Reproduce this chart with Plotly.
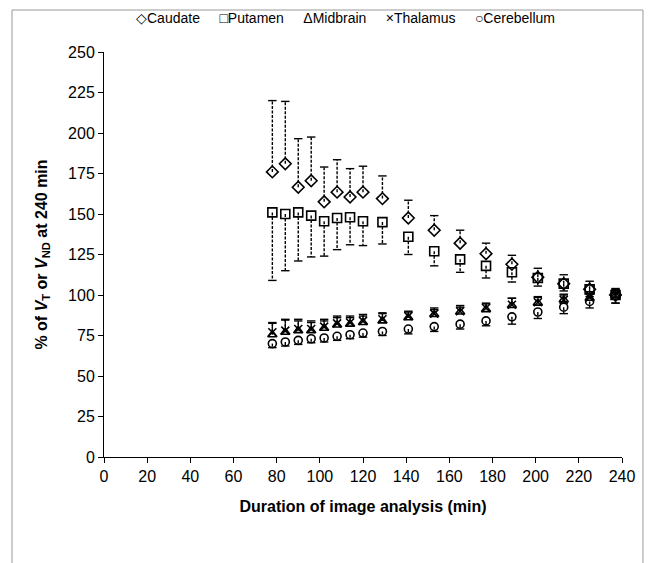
import plotly.graph_objects as go

# ---- data ----
duration = [78, 84, 90, 96, 102, 108, 114, 120, 129, 141, 153, 165, 177, 189, 201, 213, 225, 237]

caudate = [176, 181, 166.5, 170.5, 157.5, 163.5, 160.5, 163.5, 159.5, 147.5, 140, 132, 125.5, 119, 111, 107, 103.5, 100]
caudate_hi = [220, 219.5, 196.5, 197.5, 179, 183.5, 178, 179.5, 173.5, 158.5, 149, 140, 132, 124.5, 116.5, 112.5, 108.5, 104]

putamen = [151, 150, 151, 149, 145.5, 147.5, 148, 145.5, 145, 136, 127, 122, 118, 114, 110.5, 107, 103.5, 100]
putamen_lo = [109, 115, 121, 123.5, 124, 128, 131, 130.5, 131.5, 125, 118, 114, 110.5, 108, 105.5, 102.5, 99, 95]

midbrain = [75.5, 77, 78, 78, 79.5, 81.5, 82, 83, 84, 86, 88, 89.5, 91, 93.5, 95, 97, 98, 99.5]
midbrain_hi = [82.5, 84.5, 84, 83, 84, 86, 86, 87, 88.5, 89.5, 91, 92.5, 94.5, 98, 98.5, 100, 102, 103]

thalamus = [77, 78, 79, 79, 80.5, 82.5, 83, 84, 85, 87, 88.5, 90, 92, 94, 95.5, 97, 98.5, 100]
thalamus_hi = [83, 85, 85, 84, 85, 87, 87, 88, 89, 90, 92, 93.5, 95, 98, 99, 100.5, 102, 103.5]

cerebellum = [70, 71, 72, 73, 73.5, 74.5, 75.5, 76.5, 77.5, 79, 80.5, 82, 84, 86.5, 89.5, 92.5, 96, 99.5]
cerebellum_lo = [67.5, 68.5, 69.5, 70.5, 71, 72, 73, 74, 75, 76, 77.5, 79, 81, 82, 85.5, 88.5, 92, 95]

legend_labels = ["◇Caudate", "□Putamen", "ΔMidbrain", "×Thalamus", "○Cerebellum"]

series = [
    ("Caudate", caudate, caudate_hi, "diamond-open", 9),
    ("Putamen", putamen, putamen_lo, "square-open", 9),
    ("Midbrain", midbrain, midbrain_hi, "triangle-up-open", 8),
    ("Thalamus", thalamus, thalamus_hi, "x-thin-open", 8),
    ("Cerebellum", cerebellum, cerebellum_lo, "circle-open", 8),
]

fig = go.Figure()

# error bars (dashed stems + caps)
for name, vals, ends, sym, sz in series:
    xs, ys = [], []
    for x, v, e in zip(duration, vals, ends):
        xs += [x, x, None]
        ys += [v, e, None]
    fig.add_trace(go.Scatter(x=xs, y=ys, mode="lines", showlegend=False,
                             line=dict(color="black", width=1.4, dash="3px,1.5px"),
                             hoverinfo="skip"))
    fig.add_trace(go.Scatter(x=duration, y=ends, mode="markers", showlegend=False,
                             marker=dict(symbol="line-ew-open", size=6, color="black",
                                         line=dict(color="black", width=1.4)),
                             hoverinfo="skip"))

# markers
for name, vals, ends, sym, sz in series:
    fig.add_trace(go.Scatter(
        x=duration, y=vals, mode="markers", name=name, showlegend=False,
        marker=dict(symbol=sym, size=sz, color="black",
                    line=dict(color="black", width=1.6)),
    ))

axis_font = dict(family="Liberation Sans, Arial, sans-serif", size=16, color="black")

gap = "\u00a0" * 5
fig.add_annotation(
    text=gap.join(legend_labels), xref="paper", yref="paper",
    x=0.467, y=1.084, xanchor="center", yanchor="middle", showarrow=False,
    font=dict(family="Liberation Sans, Arial, sans-serif", size=14, color="black"),
)

fig.update_layout(
    width=653, height=563,
    margin=dict(l=104, r=31, t=52, b=106),
    paper_bgcolor="white", plot_bgcolor="white",
    font=axis_font,
    showlegend=False,
    xaxis=dict(range=[0, 240], dtick=20, tick0=0, showgrid=False, zeroline=False,
               showline=True, linecolor="black", linewidth=1,
               ticks="outside", ticklen=5, tickcolor="black", tickfont=axis_font,
               title=dict(text="<b>Duration of image analysis (min)</b>",
                          font=axis_font, standoff=16)),
    yaxis=dict(range=[0, 250], dtick=25, tick0=0, showgrid=False, zeroline=False,
               showline=True, linecolor="black", linewidth=1,
               ticks="outside", ticklen=5, tickcolor="black", tickfont=axis_font,
               title=dict(text="<b>% of <i>V</i><sub>T</sub> or <i>V</i><sub>ND</sub> at 240 min</b>",
                          font=axis_font, standoff=16)),
    shapes=[dict(type="rect", xref="paper", yref="paper",
                 x0=-0.1776, x1=1.0405, y0=-0.27, y1=1.1037,
                 line=dict(color="#999999", width=1), fillcolor="rgba(0,0,0,0)")],
)

fig.write_html("out.html")
